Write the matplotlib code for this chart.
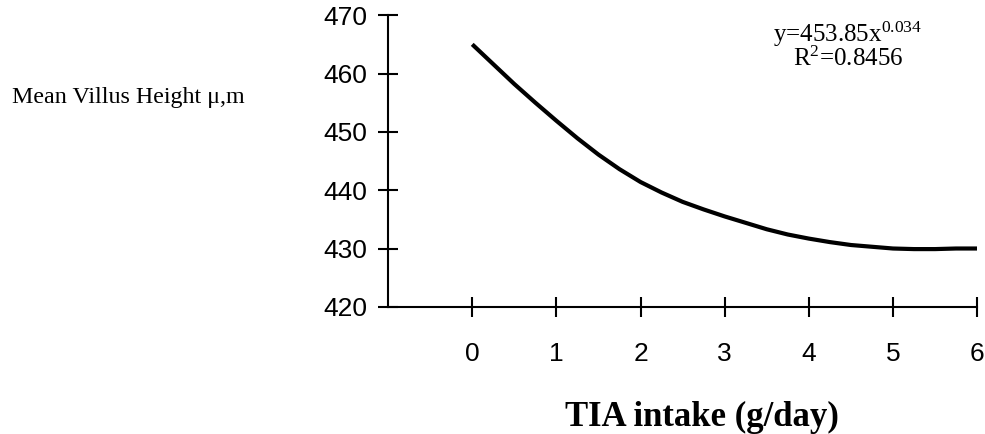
import matplotlib.pyplot as plt

plt.rcParams["mathtext.fontset"] = "custom"
plt.rcParams["mathtext.rm"] = "Liberation Serif"
plt.rcParams["mathtext.it"] = "Liberation Serif:italic"

# curve
tia = [0, 0.25, 0.5, 0.75, 1, 1.25, 1.5, 1.75, 2, 2.25, 2.5, 2.75, 3,
       3.25, 3.5, 3.75, 4, 4.25, 4.5, 4.75, 5, 5.25, 5.5, 5.75, 6]
height = [465.0, 461.6, 458.2, 455.0, 451.9, 448.9, 446.1, 443.6, 441.4, 439.6,
          438.0, 436.7, 435.5, 434.4, 433.3, 432.4, 431.7, 431.1, 430.6, 430.3,
          430.0, 429.9, 429.9, 430.0, 430.0]
xticks = [0, 1, 2, 3, 4, 5, 6]
yticks = [420, 430, 440, 450, 460, 470]

fig = plt.figure(figsize=(9.85, 4.34), dpi=100)
ax = fig.add_axes([0.394, 0.293, 0.598, 0.672])
ax.plot(tia, height, color="black", lw=3.0, solid_capstyle="butt",
        solid_joinstyle="round")

ax.set_xlim(-1, 6)
ax.set_ylim(420, 470)
ax.set_xticks(xticks)
ax.set_yticks(yticks)
ax.spines["top"].set_visible(False)
ax.spines["right"].set_visible(False)
for s in ("left", "bottom"):
    ax.spines[s].set_linewidth(1.5)
ax.tick_params(direction="inout", length=14, width=1.5, labelsize=19,
               labelfontfamily="Liberation Sans")
ax.tick_params(axis="y", pad=8)
ax.tick_params(axis="x", pad=18)

fig.text(0.713, 0.018, "TIA intake (g/day)", fontsize=25, fontweight="bold",
         family="Liberation Serif", ha="center", va="baseline")
fig.text(0.012, 0.775, "Mean Villus Height μ,m", fontsize=17.3,
         family="Liberation Serif", va="center", ha="left")
fig.text(0.861, 0.921, r"y=453.85x$^{\mathrm{0.034}}$", fontsize=18,
         family="Liberation Serif", ha="center", va="center")
fig.text(0.861, 0.864, r"R$^{\mathrm{2}}$=0.8456", fontsize=18,
         family="Liberation Serif", ha="center", va="center")

fig.savefig("out.png", dpi=100)
